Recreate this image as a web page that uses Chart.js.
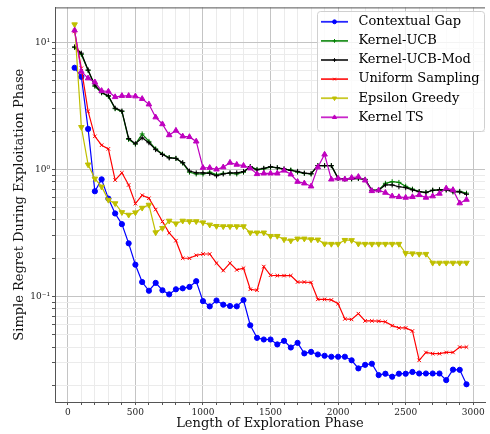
<!DOCTYPE html>
<html>
<head>
<meta charset="utf-8">
<script src="https://cdn.jsdelivr.net/npm/chart.js@4.4.0/dist/chart.umd.min.js"></script>
<style>
  html, body { margin: 0; padding: 0; background: #fff; }
  #wrap { width: 490px; height: 434px; }
</style>
</head>
<body>
<div id="wrap"><canvas id="canvas" width="490" height="434"></canvas></div>
<script>
const explorationLengths = [
  50, 100, 150, 200, 250, 300, 350, 400, 450, 500,
  550, 600, 650, 700, 750, 800, 850, 900, 950, 1000,
  1050, 1100, 1150, 1200, 1250, 1300, 1350, 1400, 1450, 1500,
  1550, 1600, 1650, 1700, 1750, 1800, 1850, 1900, 1950, 2000,
  2050, 2100, 2150, 2200, 2250, 2300, 2350, 2400, 2450, 2500,
  2550, 2600, 2650, 2700, 2750, 2800, 2850, 2900, 2950
];

const contextualGap = [
  6.3, 5.35, 2.08, 0.673, 0.835, 0.589, 0.45, 0.371, 0.262, 0.178,
  0.130, 0.111, 0.128, 0.112, 0.104, 0.114, 0.116, 0.119, 0.132, 0.092,
  0.0837, 0.093, 0.0863, 0.0842, 0.0837, 0.0938, 0.0594, 0.0473, 0.0459, 0.0459,
  0.042, 0.0448, 0.0397, 0.0432, 0.0357, 0.0367, 0.035, 0.0342, 0.0336, 0.0336,
  0.0336, 0.0315, 0.0272, 0.029, 0.0296, 0.0241, 0.0247, 0.0234, 0.0247, 0.0247,
  0.0255, 0.0248, 0.0248, 0.0248, 0.0248, 0.022, 0.0266, 0.0265, 0.0204
];

const kernelUcb = [
  9.1, 8.0, 6.0, 4.5, 4.0, 3.75, 3.0, 2.85, 1.72, 1.58,
  1.90, 1.66, 1.45, 1.32, 1.24, 1.22, 1.12, 0.95, 0.92, 0.92,
  0.95, 0.91, 0.93, 0.93, 0.92, 0.95, 1.05, 1.0, 1.01, 1.04,
  1.03, 1.0, 0.99, 0.95, 0.93, 0.92, 1.07, 1.07, 1.07, 0.85,
  0.84, 0.84, 0.85, 0.83, 0.685, 0.69, 0.777, 0.80, 0.79, 0.736,
  0.70, 0.668, 0.66, 0.685, 0.69, 0.69, 0.675, 0.672, 0.65
];

const kernelUcbMod = [
  9.2, 8.2, 6.06, 4.6, 4.03, 3.8, 3.03, 2.88, 1.75, 1.59,
  1.77, 1.62, 1.43, 1.31, 1.23, 1.22, 1.13, 0.97, 0.94, 0.94,
  0.93, 0.89, 0.92, 0.94, 0.94, 0.96, 1.05, 0.99, 1.02, 1.05,
  1.03, 1.01, 0.98, 0.965, 0.935, 0.925, 1.07, 1.07, 1.07, 0.85,
  0.84, 0.845, 0.85, 0.835, 0.685, 0.685, 0.754, 0.754, 0.73, 0.718,
  0.69, 0.668, 0.656, 0.685, 0.69, 0.69, 0.665, 0.665, 0.637
];

const uniformSampling = [
  12.2, 6.24, 2.86, 1.82, 1.55, 1.45, 0.824, 0.94, 0.754, 0.538,
  0.626, 0.593, 0.483, 0.389, 0.316, 0.275, 0.200, 0.200, 0.211, 0.216,
  0.216, 0.183, 0.160, 0.183, 0.162, 0.167, 0.114, 0.112, 0.172, 0.147,
  0.146, 0.146, 0.146, 0.130, 0.130, 0.129, 0.095, 0.095, 0.094, 0.0879,
  0.0666, 0.066, 0.0733, 0.0643, 0.0643, 0.064, 0.0632, 0.059, 0.0566, 0.0566,
  0.0536, 0.0315, 0.0363, 0.0355, 0.0355, 0.0363, 0.0363, 0.040, 0.040
];

const epsilonGreedy = [
  13.8, 2.15, 1.09, 0.845, 0.731, 0.575, 0.54, 0.46, 0.439, 0.458,
  0.498, 0.526, 0.319, 0.345, 0.394, 0.375, 0.394, 0.39, 0.39, 0.382,
  0.367, 0.358, 0.356, 0.356, 0.356, 0.356, 0.318, 0.318, 0.318, 0.299,
  0.299, 0.281, 0.275, 0.285, 0.285, 0.281, 0.28, 0.26, 0.259, 0.259,
  0.278, 0.277, 0.26, 0.259, 0.259, 0.259, 0.259, 0.259, 0.259, 0.219,
  0.218, 0.216, 0.216, 0.184, 0.184, 0.184, 0.184, 0.184, 0.184
];

const kernelTs = [
  12.4, 5.88, 5.21, 4.85, 4.15, 4.10, 3.71, 3.79, 3.79, 3.76,
  3.59, 3.25, 2.57, 2.27, 1.86, 2.02, 1.82, 1.80, 1.66, 1.03,
  1.03, 1.0, 1.04, 1.13, 1.09, 1.07, 1.02, 0.92, 0.93, 0.93,
  0.93, 0.98, 0.914, 0.80, 0.777, 0.736, 1.04, 1.31, 0.835, 0.85,
  0.835, 0.86, 0.875, 0.82, 0.676, 0.685, 0.656, 0.615, 0.607, 0.60,
  0.607, 0.63, 0.60, 0.615, 0.645, 0.71, 0.69, 0.542, 0.578
];

const seriesNames = ['Contextual Gap', 'Kernel-UCB', 'Kernel-UCB-Mod', 'Uniform Sampling', 'Epsilon Greedy', 'Kernel TS'];
const seriesValues = [contextualGap, kernelUcb, kernelUcbMod, uniformSampling, epsilonGreedy, kernelTs];

const xTickValues = [
  0, 100, 200, 300, 400, 500, 600, 700, 800, 900, 1000,
  1100, 1200, 1300, 1400, 1500, 1600, 1700, 1800, 1900, 2000,
  2100, 2200, 2300, 2400, 2500, 2600, 2700, 2800, 2900, 3000
];
const yTickValues = [
  0.02, 0.03, 0.04, 0.05, 0.06, 0.07, 0.08, 0.09,
  0.1, 0.2, 0.3, 0.4, 0.5, 0.6, 0.7, 0.8, 0.9,
  1, 2, 3, 4, 5, 6, 7, 8, 9, 10
];
const yTickLabels = {0.1: '10\u207B\u00B9', 1: '10\u2070', 10: '10\u00B9'};

// marker and colour per series, matplotlib style
const seriesStyles = [
  {color: '#0000ff', pointStyle: 'circle', radius: 2.6, rotation: 0},
  {color: '#008000', pointStyle: 'cross', radius: 2.5, rotation: 0},
  {color: '#000000', pointStyle: 'cross', radius: 2.5, rotation: 0},
  {color: '#ff0000', pointStyle: 'crossRot', radius: 2.5, rotation: 0},
  {color: '#bfbf00', pointStyle: 'triangle', radius: 3.2, rotation: 180},
  {color: '#bf00bf', pointStyle: 'triangle', radius: 3.2, rotation: 0},
];

const serif = 'DejaVu Serif';
const majorGrid = '#c4c4c4';
const minorGrid = '#ebebeb';

function isDecade(v) {
  return v === 0.1 || v === 1 || v === 10;
}

const datasets = seriesNames.map((name, i) => {
  const st = seriesStyles[i];
  return {
    label: name,
    data: explorationLengths.map((x, j) => ({x: x, y: seriesValues[i][j]})),
    borderColor: st.color,
    backgroundColor: st.color,
    borderWidth: 1.2,
    pointStyle: st.pointStyle,
    pointRadius: st.radius,
    pointRotation: st.rotation,
    pointBorderWidth: 1,
    pointBorderColor: st.color,
    pointBackgroundColor: st.color,
    tension: 0,
    order: seriesNames.length - i,
  };
});

// legend box in the upper right corner plus the top spine
const plotDecor = {
  id: 'plotDecor',
  afterDatasetsDraw(chart) {
    const {ctx, chartArea} = chart;
    ctx.save();
    ctx.strokeStyle = '#555';
    ctx.lineWidth = 1;
    ctx.beginPath();
    ctx.moveTo(chartArea.left, chartArea.top + 0.5);
    ctx.lineTo(chartArea.right, chartArea.top + 0.5);
    ctx.stroke();

    const bx = 317, by = 11, bw = 167, bh = 120;
    ctx.beginPath();
    ctx.roundRect(bx + 0.5, by + 0.5, bw, bh, 3);
    ctx.fillStyle = 'rgba(255,255,255,0.8)';
    ctx.fill();
    ctx.strokeStyle = '#d0d0d0';
    ctx.stroke();

    chart.data.datasets.forEach((ds, i) => {
      const y = 21.8 + i * 19.1;
      ctx.globalAlpha = 0.85;
      ctx.strokeStyle = ds.borderColor;
      ctx.fillStyle = ds.borderColor;
      ctx.lineWidth = 1.8;
      ctx.beginPath();
      ctx.moveTo(321, y);
      ctx.lineTo(348, y);
      ctx.stroke();
      ctx.globalAlpha = 1;
      ctx.lineWidth = 1;
      Chart.helpers.drawPoint(ctx, {
        pointStyle: ds.pointStyle,
        radius: ds.pointRadius * 0.75,
        rotation: ds.pointRotation,
        borderWidth: 1
      }, 334.5, y);
      ctx.fillStyle = '#000';
      ctx.font = '13px "' + serif + '"';
      ctx.textBaseline = 'middle';
      ctx.textAlign = 'left';
      ctx.fillText(ds.label, 358.5, y);
    });
    ctx.restore();
  }
};

const canvas = document.getElementById('canvas');
const chart = new Chart(canvas.getContext('2d'), {
  type: 'line',
  data: {datasets: datasets},
  options: {
    responsive: false,
    animation: false,
    devicePixelRatio: 1,
    layout: {padding: {top: 5, right: 0, left: 0, bottom: 0}},
    plugins: {
      legend: {display: false},
      tooltip: {enabled: false},
    },
    scales: {
      x: {
        type: 'linear',
        min: -95,
        max: 3087,
        afterBuildTicks: s => {
          s.ticks = xTickValues.map(v => ({value: v}));
        },
        afterFit: s => { s.height = 32; },
        ticks: {
          autoSkip: false,
          maxRotation: 0,
          padding: 2,
          color: '#222',
          font: {family: serif, size: 9},
          callback: v => (v % 500 === 0 ? String(v) : ''),
        },
        grid: {
          color: c => (c.tick && c.tick.value % 500 === 0 ? majorGrid : minorGrid),
          tickColor: '#555',
          tickLength: 3,
        },
        border: {color: '#555', width: 1},
        title: {
          display: true,
          text: 'Length of Exploration Phase',
          color: '#111',
          font: {family: serif, size: 13},
          padding: {top: 0, bottom: 3},
        },
      },
      y: {
        type: 'logarithmic',
        min: 0.0148,
        max: 18.8,
        afterBuildTicks: s => {
          s.ticks = yTickValues.map(v => ({value: v}));
        },
        afterFit: s => { s.width = 55; },
        ticks: {
          autoSkip: false,
          padding: 2,
          color: '#222',
          font: {family: serif, size: 9},
          callback: v => yTickLabels[v] || '',
        },
        grid: {
          color: c => (c.tick && isDecade(c.tick.value) ? majorGrid : minorGrid),
          tickColor: '#555',
          tickLength: 3,
        },
        border: {color: '#555', width: 1},
        title: {
          display: true,
          text: 'Simple Regret During Exploitation Phase',
          color: '#111',
          font: {family: serif, size: 13},
          padding: {top: 12, bottom: 0},
        },
      },
    },
  },
  plugins: [plotDecor],
});
</script>
</body>
</html>
